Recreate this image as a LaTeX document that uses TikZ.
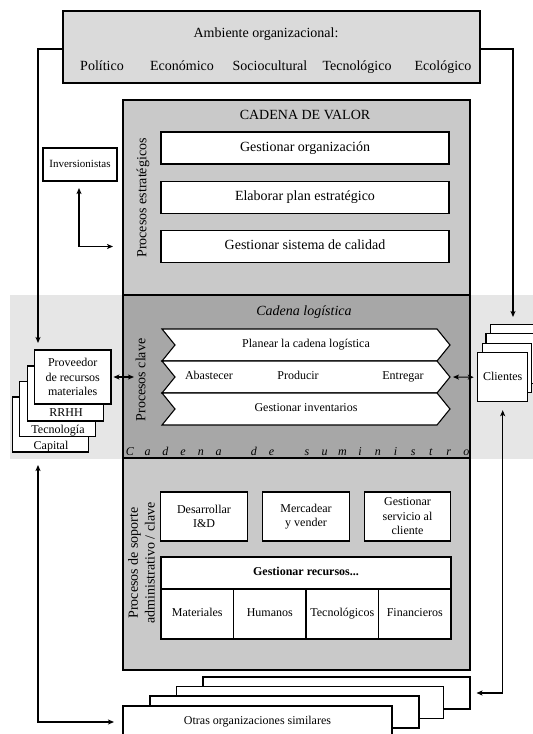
\documentclass[tikz,border=0pt]{standalone}
\usepackage{fontspec}
\setmainfont{Liberation Serif}
\usetikzlibrary{arrows.meta}

\definecolor{envgray}{HTML}{DADADA}
\definecolor{chainlight}{HTML}{C9C9C9}
\definecolor{chaindark}{HTML}{A7A7A7}
\definecolor{bandgray}{HTML}{E6E6E6}

\newcommand{\fbig}{\fontsize{14}{16.5}\selectfont}
\newcommand{\fmid}{\fontsize{12}{14.5}\selectfont}
\newcommand{\fsmall}{\fontsize{11}{13}\selectfont}

\tikzset{
  every node/.style={inner sep=0pt, outer sep=0pt},
  edge line/.style={draw=black, line width=1.1pt},
  whitebox/.style={edge line, fill=white, align=center, font=\fmid},
  big line/.style={font=\fbig, text height=10pt, text depth=3.3pt},
  mid line/.style={font=\fmid, text height=8.6pt, text depth=2.8pt},
  small line/.style={font=\fsmall, text height=7.9pt, text depth=2.6pt},
  conn/.style={line width=1.1pt, -{Stealth[length=6pt,width=5pt,inset=1.5pt]}},
  conn2/.style={line width=1.1pt, {Stealth[length=6pt,width=5pt,inset=1.5pt]}-{Stealth[length=6pt,width=5pt,inset=1.5pt]}},
  chevron/.style={edge line, fill=white, line join=miter},
}

\begin{document}
\begin{tikzpicture}[x=1pt, y=-1pt]
\useasboundingbox (0,0) rectangle (533,734);
\clip (0,0) rectangle (533,734);

% light band behind the supply chain row
\node[fill=bandgray, minimum width=523pt, minimum height=164pt] (band) at (271.5,377) {};

% organizational environment
\node[edge line, fill=envgray, minimum width=417pt, minimum height=72pt] (amb) at (271.5,47) {};
\node[big line] (ambt) at (266,34) {Ambiente organizacional:};
\node[big line] (pol) at (102,67.5) {Político};
\node[big line] (eco) at (182,67.5) {Económico};
\node[big line] (soc) at (270,67.5) {Sociocultural};
\node[big line] (tec) at (357,67.5) {Tecnológico};
\node[big line] (ecl) at (443,67.5) {Ecológico};

% value chain: three sections
\node[edge line, fill=chainlight, minimum width=347pt, minimum height=195pt] (upper) at (296.5,197.5) {};
\node[edge line, fill=chaindark, minimum width=347pt, minimum height=163pt] (mid) at (296.5,376.5) {};
\node[edge line, fill=chainlight, minimum width=347pt, minimum height=212pt] (lower) at (296.5,564) {};

% strategic processes
\node[big line] (cvt) at (305,116) {CADENA DE VALOR};
\node[big line, rotate=90] (pest) at (143,198) {Procesos estratégicos};
\node[whitebox, big line, minimum width=288pt, minimum height=32pt] (s1) at (305,148) {Gestionar organización};
\node[whitebox, big line, minimum width=288pt, minimum height=32pt] (s2) at (305,197.5) {Elaborar plan estratégico};
\node[whitebox, big line, minimum width=288pt, minimum height=32pt] (s3) at (305,246.5) {Gestionar sistema de calidad};

% key processes: logistics chain
\node[big line, font=\fbig\itshape] (clog) at (304,312) {Cadena logística};
\node[big line, rotate=90] (pclave) at (142,380) {Procesos clave};
\foreach \t in {329,361,393}
  \draw[chevron] (162,\t) -- (437,\t) -- (450,\t+16) -- (437,\t+32) -- (162,\t+32) -- (175,\t+16) -- cycle;
\coordinate (tip2) at (450,377);
\node[mid line] (plan) at (306,345) {Planear la cadena logística};
\node[mid line] (abas) at (209,377) {Abastecer};
\node[mid line] (prod) at (298,377) {Producir};
\node[mid line] (entr) at (403,377) {Entregar};
\node[mid line] (inven) at (306,409) {Gestionar inventarios};
\foreach \i/\c in {0/C,1/a,2/d,3/e,4/n,5/a,7/d,8/e,10/s,11/u,12/m,13/i,14/n,15/i,16/s,17/t,18/r,19/o}
  \node[font=\fmid\itshape, anchor=base] (sum\i) at (130+17.7*\i,455.5) {\c};

% support processes
\node[rotate=90, align=center, font=\fontsize{14}{16.7}\selectfont] (psop) at (141.5,563) {Procesos de soporte\\administrativo / clave};
\node[whitebox, minimum width=86.5pt, minimum height=49pt] (idd) at (204,516.5) {Desarrollar\\I\&D};
\node[whitebox, minimum width=86.5pt, minimum height=49pt] (merc) at (306,516.5) {Mercadear\\y vender};
\node[whitebox, minimum width=86.5pt, minimum height=49pt] (serv) at (407.5,516.5) {Gestionar\\servicio al\\cliente};
\node[whitebox, mid line, font=\fmid\bfseries, minimum width=290pt, minimum height=32pt] (grec) at (306,573) {Gestionar recursos...};
\node[whitebox, mid line, minimum width=72.5pt, minimum height=50pt] (rmat) at (197.25,614) {Materiales};
\node[whitebox, mid line, minimum width=72.5pt, minimum height=50pt] (rhum) at (269.75,614) {Humanos};
\node[whitebox, mid line, minimum width=72.5pt, minimum height=50pt] (rtec) at (342.25,614) {Tecnológicos};
\node[whitebox, mid line, minimum width=72.5pt, minimum height=50pt] (rfin) at (414.75,614) {Financieros};

% investors
\node[whitebox, small line, minimum width=74pt, minimum height=33pt] (inv) at (80,164.5) {Inversionistas};

% suppliers stack
\node[whitebox, minimum width=75.5pt, minimum height=55pt] (cap) at (50.5,424.5) {};
\node[whitebox, minimum width=75.5pt, minimum height=55pt] (tecn) at (57.5,409) {};
\node[whitebox, minimum width=75.5pt, minimum height=55pt] (rrhh) at (65.3,393.5) {};
\node[whitebox, minimum width=76.5pt, minimum height=54pt] (prov) at (72.7,377) {Proveedor\\de recursos\\materiales};
\node[mid line] (rrhht) at (66,414) {RRHH};
\node[mid line] (tecnt) at (58,430.5) {Tecnología};
\node[mid line] (capt) at (51,446.5) {Capital};

% clients stack
\node[whitebox, minimum width=49.5pt, minimum height=49.5pt] (cli4) at (515,349) {};
\node[whitebox, minimum width=49.5pt, minimum height=49.5pt] (cli3) at (510.7,358.5) {};
\node[whitebox, minimum width=49.5pt, minimum height=49.5pt] (cli2) at (506.8,368) {};
\node[whitebox, mid line, minimum width=50pt, minimum height=49pt] (cli1) at (502.7,377.2) {Clientes};

% similar organizations stack
\node[whitebox, minimum width=267pt, minimum height=32pt] (otr4) at (336.5,693) {};
\node[whitebox, minimum width=267pt, minimum height=32pt] (otr3) at (310,702.5) {};
\node[whitebox, minimum width=269pt, minimum height=32pt] (otr2) at (284.5,712) {};
\node[whitebox, mid line, minimum width=269pt, minimum height=32pt] (otr1) at (257.5,722) {Otras organizaciones similares};

% connectors
\coordinate (lt) at (38,343);
\coordinate (rt) at (513,317);
\coordinate (lb) at (38,465);
\draw[conn] ([yshift=-2pt]amb.west) -| (lt);
\draw[conn] ([yshift=-2pt]amb.east) -| (rt);
\draw[conn2] ([xshift=-1pt,yshift=-7pt]inv.south) |- ([xshift=-10pt]upper.west |- s3.center);
\draw[conn2] ([xshift=2.5pt]prov.east) -- ([xshift=11pt]mid.west |- prov.east);
\draw[conn2] ([xshift=3pt]tip2) -- ([xshift=-4pt]cli1.west);
\draw[conn2] ([yshift=-8.5pt]cli1.south) |- ([xshift=6.5pt]otr4.east);
\draw[conn2] (lb) |- ([xshift=-9pt]otr1.west);

\end{tikzpicture}
\end{document}
